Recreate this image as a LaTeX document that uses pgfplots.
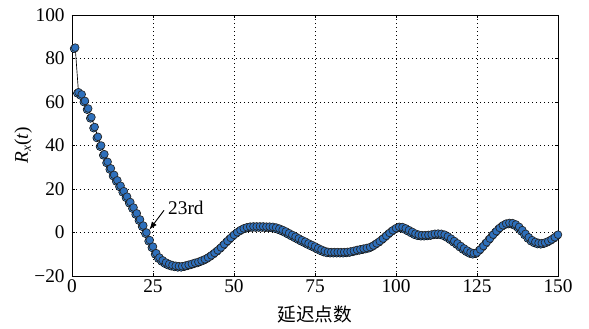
\documentclass[border=0pt]{standalone}
\usepackage{pgfplots}
\usepackage{pgfplotstable}
\pgfplotsset{compat=1.18}
\usetikzlibrary{arrows.meta}
\usepackage{fontspec}
\setmainfont{Liberation Serif}
\newfontfamily\cjk{Noto Sans CJK SC}
\definecolor{markblue}{RGB}{46,112,188}
\definecolor{markhalo}{RGB}{70,140,210}

% autocorrelation R_x(t) against lag
\pgfplotstableread{
lag r
1 85
2 64.5
3 63.5
4 60.5
5 57
6 53
7 48.5
8 44
9 40
10 36
11 32.5
12 29.5
13 26.5
14 24
15 21.5
16 19
17 16.5
18 14
19 11.5
20 8.8
21 6
22 3.2
23 0
24 -3.5
25 -6.5
26 -9.5
27 -11.5
28 -12.8
29 -13.8
30 -14.5
31 -15
32 -15.3
33 -15.5
34 -15.5
35 -15.2
36 -14.8
37 -14.4
38 -13.9
39 -13.5
40 -12.9
41 -12.3
42 -11.5
43 -10.5
44 -9.4
45 -8.2
46 -6.9
47 -5.4
48 -3.9
49 -2.5
50 -1.1
51 0.1
52 1.1
53 1.9
54 2.4
55 2.7
56 2.8
57 2.8
58 2.8
59 2.8
60 2.7
61 2.7
62 2.6
63 2.3
64 1.8
65 1.2
66 0.5
67 -0.3
68 -1.1
69 -1.9
70 -2.7
71 -3.5
72 -4.2
73 -5
74 -5.7
75 -6.4
76 -7.2
77 -7.9
78 -8.5
79 -8.9
80 -9
81 -9
82 -9
83 -9
84 -9
85 -8.9
86 -8.7
87 -8.4
88 -8
89 -7.7
90 -7.4
91 -7.1
92 -6.7
93 -6
94 -5
95 -4
96 -2.8
97 -1.5
98 -0.2
99 1
100 2
101 2.6
102 2.5
103 1.9
104 1.1
105 0.3
106 -0.5
107 -1
108 -1.2
109 -1.2
110 -1.1
111 -0.9
112 -0.6
113 -0.5
114 -0.6
115 -1
116 -1.8
117 -2.8
118 -3.9
119 -5
120 -6.2
121 -7.3
122 -8.3
123 -9.1
124 -9.5
125 -9.2
126 -7.8
127 -6.2
128 -4.5
129 -2.8
130 -1
131 0.6
132 2.1
133 3.3
134 4.1
135 4.4
136 4.3
137 3.7
138 2.6
139 1.1
140 -0.6
141 -2.2
142 -3.5
143 -4.3
144 -4.8
145 -4.9
146 -4.6
147 -4
148 -3.2
149 -2.2
150 -1
}\rxdata

\begin{document}
\begin{tikzpicture}
\begin{axis}[
  scale only axis,
  width=364.5pt, height=195.75pt,
  xmin=0, xmax=150, ymin=-20, ymax=100,
  xtick={0,25,50,75,100,125,150},
  ytick={-20,0,20,40,60,80,100},
  yticklabels={−20,0,20,40,60,80,100},
  grid=major,
  grid style={black, line width=0.6pt, dash pattern=on 0.6pt off 2.4pt},
  axis line style={black, line width=0.7pt},
  tick align=inside, major tick length=2pt,
  tick style={black, line width=0.5pt},
  /pgf/number format/assume math mode=true,
  tick label style={font=\fontsize{14.5}{16}\selectfont},
  xticklabel style={yshift=1pt},
  yticklabel style={xshift=-2pt},
  xlabel={\cjk 延迟点数},
  xlabel style={font=\fontsize{14}{16}\selectfont, yshift=-3.5pt},
  ylabel={\textit{R}\raisebox{-0.35ex}{\fontsize{10}{12}\selectfont\textit{x}}(\textit{t})},
  ylabel style={font=\fontsize{14.5}{16}\selectfont, yshift=-5pt},
  clip=false,
]
  % offset blue halo under each marker
  \addplot[only marks, mark=*, mark size=3pt,
    mark options={fill=markhalo, draw=none, xshift=-0.8pt, yshift=-0.8pt}]
    table[x=lag, y=r] {\rxdata};
  % connecting line and markers
  \addplot[black, line width=0.5pt, mark=*, mark size=2.9pt,
    mark options={fill=markblue, draw=black!85, line width=0.5pt}]
    table[x=lag, y=r] {\rxdata};
  % label for the 23rd lag
  \draw[-{Latex[length=6pt,width=4.5pt]}, black, line width=0.7pt]
    (axis cs:28.4,10.2) -- (axis cs:23.9,1.3);
  \node[anchor=west, font=\fontsize{14.5}{16}\selectfont, inner sep=0pt]
    at (axis cs:29.6,11.3) {23rd};
\end{axis}
\path[use as bounding box]
  ([shift={(-54pt,-38.25pt)}]current axis.south west) rectangle
  ([shift={(387.75pt,207pt)}]current axis.south west);
\end{tikzpicture}
\end{document}
